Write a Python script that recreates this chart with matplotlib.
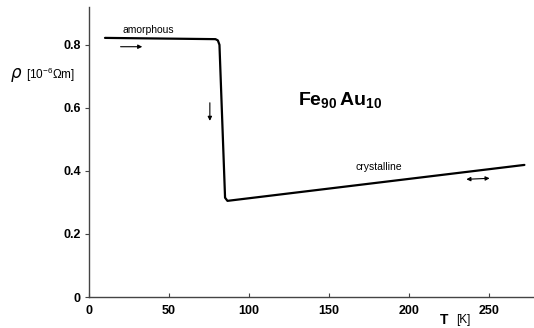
import matplotlib
matplotlib.use("Agg")
import matplotlib.pyplot as plt

# Resistivity of Fe90Au10 versus temperature
temperature = [10, 79, 80.5, 81.5, 85, 86.5, 272]
resistivity = [0.822, 0.818, 0.814, 0.80, 0.315, 0.305, 0.419]

x_ticks = [0, 50, 100, 150, 200, 250]
y_ticks = [0, 0.2, 0.4, 0.6, 0.8]
y_tick_labels = ["0", "0.2", "0.4", "0.6", "0.8"]

plt.rcParams["font.family"] = ["Liberation Sans", "DejaVu Sans"]
plt.rcParams["mathtext.fontset"] = "custom"
plt.rcParams["mathtext.rm"] = "Liberation Sans"
plt.rcParams["mathtext.bf"] = "Liberation Sans:bold"

fig = plt.figure(figsize=(5.34, 3.28), dpi=100)
ax = fig.add_axes([89 / 534, 31 / 328, 445 / 534, 290 / 328])

ax.plot(temperature, resistivity, color="black", lw=1.6,
        solid_joinstyle="round", solid_capstyle="round")

ax.set_xlim(0, 278)
ax.set_ylim(0, 0.92)
ax.set_xticks(x_ticks)
ax.set_xticklabels([str(t) for t in x_ticks])
ax.set_yticks(y_ticks)
ax.set_yticklabels(y_tick_labels)

for side in ("top", "right"):
    ax.spines[side].set_visible(False)
for side in ("left", "bottom"):
    ax.spines[side].set_color("#444444")
    ax.spines[side].set_linewidth(1.0)

ax.tick_params(axis="y", direction="out", length=3, width=0.8,
               color="#444444", labelsize=9, pad=3)
ax.tick_params(axis="x", direction="in", length=3, width=0.8,
               color="#444444", labelsize=9, pad=6)
for lbl in ax.get_xticklabels() + ax.get_yticklabels():
    lbl.set_fontweight("bold")

# axis titles
fig.text(10 / 534, 1 - 75 / 328, r"$\rho$", fontsize=12, va="center", ha="left",
         family="DejaVu Serif", style="italic")
fig.text(26 / 534, 1 - 75 / 328, r"[10$^{-6}\Omega$m]", fontsize=8.5,
         va="center", ha="left")
fig.text(444 / 534, 1 - 320 / 328, "T", fontsize=10, fontweight="bold",
         ha="center", va="center")
fig.text(463 / 534, 1 - 320 / 328, "[K]", fontsize=8.5,
         ha="center", va="center")

# annotations
ax.text(37, 0.848, "amorphous", fontsize=7.5, ha="center", va="center")
ax.text(181, 0.412, "crystalline", fontsize=7.5, ha="center", va="center")
ax.text(157, 0.625, r"$\mathbf{Fe_{90}\,Au_{10}}$", fontsize=14,
        ha="center", va="center")

arrow = dict(arrowstyle="-|>", color="black", lw=0.8, mutation_scale=6)
ax.annotate("", xy=(35, 0.794), xytext=(18, 0.794), arrowprops=arrow)
ax.annotate("", xy=(75.5, 0.55), xytext=(75.5, 0.625), arrowprops=arrow)
ax.annotate("", xy=(252, 0.377), xytext=(234, 0.373),
            arrowprops=dict(arrowstyle="<|-|>", color="black", lw=0.8,
                            mutation_scale=6))

fig.savefig("out.png", dpi=100, facecolor="white")
